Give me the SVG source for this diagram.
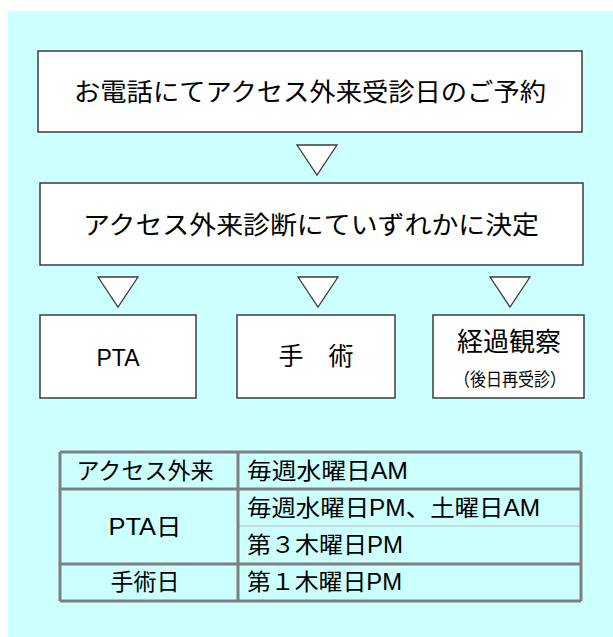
<svg xmlns="http://www.w3.org/2000/svg" width="613" height="637" viewBox="0 0 613 637">
<style>
.bg{fill:#CCFFFF}
.box{fill:#FFFFFF;stroke:#3C3C3C;stroke-width:1.5}
.tri{fill:#FFFFFF;stroke:#3C3C3C;stroke-width:1.3}
.t{font-family:"Liberation Sans","Noto Sans CJK JP",sans-serif;fill:#000000;text-anchor:middle}
.tl{font-family:"Liberation Sans","Noto Sans CJK JP",sans-serif;fill:#000000}
.tline{stroke:#7F7F7F;stroke-width:3;fill:none}
.sub{stroke:#C8DCDC;stroke-width:2}
</style>
<rect class="bg" x="8" y="11" width="605" height="626"/>
<g id="node-reserve">
<rect class="box" x="38" y="51" width="544" height="81"/>
<text class="t" x="310" y="101" font-size="25" textLength="472" lengthAdjust="spacingAndGlyphs">お電話にてアクセス外来受診日のご予約</text>
</g>
<g id="node-decide">
<rect class="box" x="40" y="183" width="543" height="82"/>
<text class="t" x="311" y="234" font-size="25" textLength="456" lengthAdjust="spacingAndGlyphs">アクセス外来診断にていずれかに決定</text>
</g>
<g id="node-pta">
<rect class="box" x="40" y="315" width="156" height="83"/>
<text class="t" x="118" y="366" font-size="23">PTA</text>
</g>
<g id="node-surgery">
<rect class="box" x="237" y="315" width="158" height="83"/>
<text class="t" x="316" y="365" font-size="25">手　術</text>
</g>
<g id="node-observe">
<rect class="box" x="433" y="315" width="151" height="83"/>
<text class="t" x="509" y="351" font-size="26">経過観察</text>
<text class="t" x="510" y="386" font-size="18" textLength="112" lengthAdjust="spacingAndGlyphs">（後日再受診）</text>
</g>
<g id="connectors">
<polygon class="tri" points="297,145 337,145 317,175"/>
<polygon class="tri" points="98,277 138,277 118,307"/>
<polygon class="tri" points="298,277 338,277 318,307"/>
<polygon class="tri" points="490,277 530,277 510,307"/>
</g>
<g id="table">
<line class="sub" x1="239" y1="526" x2="580" y2="526"/>
<line class="tline" x1="60" y1="452" x2="581" y2="452"/>
<line class="tline" x1="60" y1="489" x2="581" y2="489"/>
<line class="tline" x1="60" y1="564" x2="581" y2="564"/>
<line class="tline" x1="60" y1="601" x2="581" y2="601"/>
<line class="tline" x1="60" y1="452" x2="60" y2="601"/>
<line class="tline" x1="581" y1="452" x2="581" y2="601"/>
<line class="tline" x1="238" y1="452" x2="238" y2="601"/>
<text class="t" x="145" y="479" font-size="23" textLength="137" lengthAdjust="spacingAndGlyphs">アクセス外来</text>
<text class="t" x="145" y="535" font-size="23" textLength="73" lengthAdjust="spacingAndGlyphs">PTA日</text>
<text class="t" x="145" y="590" font-size="23">手術日</text>
<text class="tl" x="247" y="479" font-size="23" textLength="161" lengthAdjust="spacingAndGlyphs">毎週水曜日AM</text>
<text class="tl" x="247" y="516" font-size="23" textLength="293" lengthAdjust="spacingAndGlyphs">毎週水曜日PM、土曜日AM</text>
<text class="tl" x="247" y="553" font-size="23" textLength="156" lengthAdjust="spacingAndGlyphs">第３木曜日PM</text>
<text class="tl" x="247" y="590" font-size="23" textLength="155" lengthAdjust="spacingAndGlyphs">第１木曜日PM</text>
</g>
</svg>
